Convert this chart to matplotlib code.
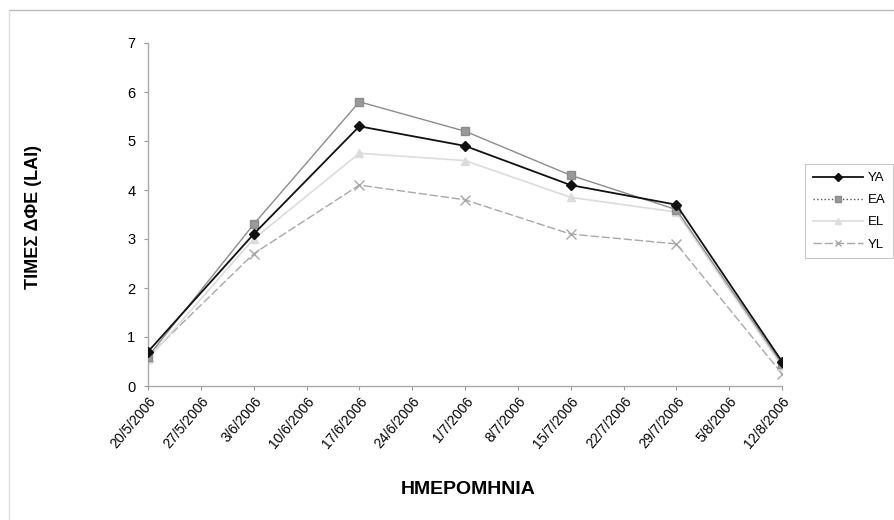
import matplotlib
matplotlib.use("Agg")
import matplotlib.pyplot as plt
from matplotlib.lines import Line2D
from datetime import datetime, timedelta

dates = ["2006-05-20", "2006-06-03", "2006-06-17", "2006-07-01", "2006-07-15", "2006-07-29", "2006-08-12"]
ya = [0.7, 3.1, 5.3, 4.9, 4.1, 3.7, 0.5]
ea = [0.6, 3.3, 5.8, 5.2, 4.3, 3.6, 0.45]
el = [0.55, 3.0, 4.75, 4.6, 3.85, 3.55, 0.4]
yl = [0.6, 2.7, 4.1, 3.8, 3.1, 2.9, 0.25]
series_names = ["YA", "EA", "EL", "YL"]
y_label = "ΤΙΜΕΣ ΔΦΕ (LAI)"
x_label = "ΗΜΕΡΟΜΗΝΙΑ"

plt.rcParams['font.family'] = ['Liberation Sans', 'DejaVu Sans']

x = [datetime.strptime(d, "%Y-%m-%d") for d in dates]

fig = plt.figure(figsize=(8.94, 5.2), dpi=100)
ax = fig.add_axes([148/894, 1-386/520, (782-148)/894, (386-43)/520])

ax.plot(x, yl, color='#a8a8a8', lw=1.0, ls=(0, (6, 2)), marker='x', ms=7, mew=1.0, label="YL", zorder=2)
ax.plot(x, el, color='#dcdcdc', lw=1.2, marker='^', ms=6, mfc='#dcdcdc', mec='#dcdcdc', label="EL", zorder=2)
ax.plot(x, ea, color='#8c8c8c', lw=1.0, marker='s', ms=6, mfc='#9a9a9a', mec='#8c8c8c', label="EA", zorder=3)
ax.plot(x, ya, color='#111111', lw=1.3, marker='D', ms=5.5, mfc='#111111', mec='#111111', label="YA", zorder=4)

ax.set_ylim(0, 7)
ax.set_yticks(range(0, 8))
start = x[0]
ticks = [start + timedelta(days=7*i) for i in range(13)]
ax.set_xlim(ticks[0], ticks[-1])
ax.set_xticks(ticks)
ax.set_xticklabels([f"{t.day}/{t.month}/{t.year}" for t in ticks], rotation=50,
                   ha='right', rotation_mode='anchor', fontsize=10)
ax.tick_params(axis='y', labelsize=10.5, length=3, color='#999999', pad=6)
ax.tick_params(axis='x', length=3, color='#999999', pad=3)
for s in ['top', 'right']:
    ax.spines[s].set_visible(False)
for s in ['left', 'bottom']:
    ax.spines[s].set_color('#aaaaaa')
    ax.spines[s].set_linewidth(1.0)

fig.text(33/894, 1-217/520, y_label, rotation=90, ha='center', va='center', fontsize=13, fontweight='bold')
fig.text(468/894, 1-490/520, x_label, ha='center', va='center', fontsize=14, fontweight='bold')

handles = [
    Line2D([], [], color='#111111', lw=1.3, marker='D', ms=4, mfc='#111111'),
    Line2D([], [], color='#555555', lw=1.0, ls=':', marker='s', ms=4, mfc='#9a9a9a', mec='#8c8c8c'),
    Line2D([], [], color='#dcdcdc', lw=1.2, marker='^', ms=4, mfc='#dcdcdc', mec='#dcdcdc'),
    Line2D([], [], color='#a8a8a8', lw=1.0, ls=(0, (6, 2)), marker='x', ms=5),
]
leg = fig.legend(handles, series_names, loc='upper left', bbox_to_anchor=(805/894, 1-164/520),
                 fontsize=9.5, frameon=True, fancybox=False, edgecolor='#bbbbbb',
                 handlelength=3.8, handletextpad=0.35, labelspacing=0.75, borderpad=0.6,
                 borderaxespad=0)
leg.get_frame().set_linewidth(0.8)

fig.add_artist(Line2D([9/894, 1], [1-10/520, 1-10/520], color='#bbbbbb', lw=1.0, transform=fig.transFigure))
fig.add_artist(Line2D([9/894, 9/894], [0, 1-10/520], color='#dddddd', lw=1.0, transform=fig.transFigure))

fig.savefig("out.png", dpi=100)
